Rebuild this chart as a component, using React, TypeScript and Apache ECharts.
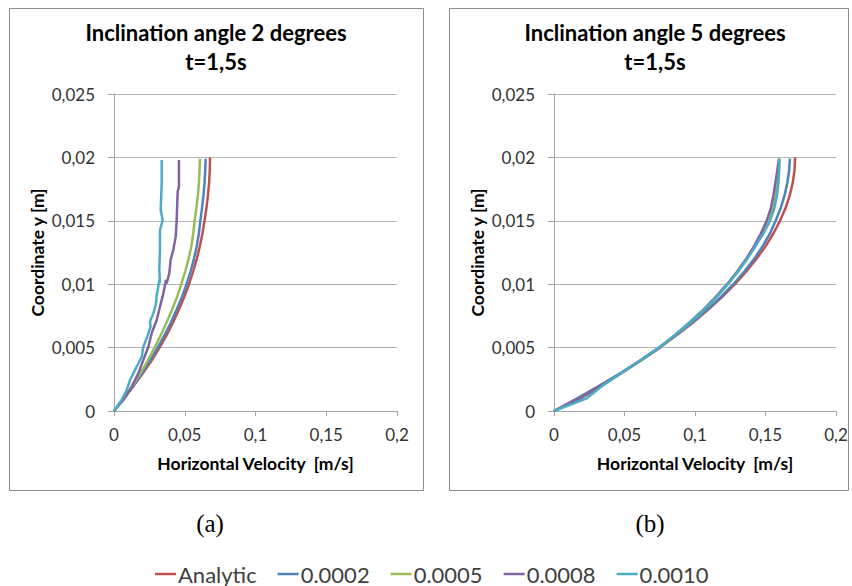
import React, { useEffect, useRef } from "react";
import * as echarts from "echarts";

// ---------- DATA ----------
const seriesNames = ["Analytic", "0.0002", "0.0005", "0.0008", "0.0010"];
const seriesColors = ["#C0504D", "#4F81BD", "#9BBB59", "#8064A2", "#4BACC6"];

const xTicks = [0, 0.05, 0.1, 0.15, 0.2];
const yTicks = [0, 0.005, 0.01, 0.015, 0.02, 0.025];

// common y levels (m)
const yLevels = [0, 0.001, 0.002, 0.003, 0.004, 0.005, 0.006, 0.007, 0.008, 0.009, 0.01,
  0.011, 0.012, 0.013, 0.014, 0.015, 0.016, 0.017, 0.018, 0.019, 0.0199];

// ----- (a) inclination 2 degrees -----
const a_analytic = [0, 0.0072, 0.014, 0.0205, 0.0267, 0.0322, 0.0373, 0.0418, 0.0459, 0.0497, 0.053,
  0.0559, 0.0585, 0.0607, 0.0625, 0.064, 0.0653, 0.0664, 0.0672, 0.0677, 0.0679];
const a_0002 = [0, 0.007, 0.0136, 0.0198, 0.0256, 0.0309, 0.0358, 0.0403, 0.0443, 0.048, 0.0513,
  0.0541, 0.0565, 0.0585, 0.06, 0.061, 0.0622, 0.0632, 0.064, 0.0645, 0.0648];
const a_0005 = [0, 0.0068, 0.0131, 0.0188, 0.024, 0.0287, 0.0331, 0.0372, 0.0411, 0.0446, 0.0475,
  0.0503, 0.0527, 0.0547, 0.056, 0.057, 0.0582, 0.0593, 0.06, 0.0605, 0.0607];
const a_0008_v = [0, 0.0007, 0.0066, 0.0125, 0.0172, 0.0207, 0.0243, 0.0266, 0.0302, 0.0325, 0.0349,
  0.0367, 0.0372, 0.0391, 0.04, 0.0419, 0.0436, 0.0443, 0.045, 0.0459, 0.0459];
const a_0008_y = [0, 0.0001, 0.00087, 0.00192, 0.00297, 0.00402, 0.00507, 0.00613, 0.00718, 0.00822, 0.00928,
  0.01033, 0.01007, 0.01086, 0.0119, 0.0127, 0.01375, 0.01506, 0.0173, 0.01769, 0.0198];
const a_0010_v = [0, 0.0007, 0.0054, 0.009, 0.0113, 0.0137, 0.016, 0.0196, 0.0207, 0.0235, 0.0259, 0.0254,
  0.0278, 0.0285, 0.0297, 0.0302, 0.0313, 0.032, 0.0325, 0.032, 0.0325, 0.0325, 0.0344, 0.033, 0.0337, 0.0337];
const a_0010_y = [0, 0.0001, 0.00087, 0.00166, 0.00244, 0.00297, 0.00349, 0.00428, 0.00507, 0.00586, 0.00665, 0.00704,
  0.0077, 0.00797, 0.00849, 0.00915, 0.0098, 0.01033, 0.01007, 0.01112, 0.0127, 0.01427, 0.01506, 0.01585, 0.01796, 0.0198];

// ----- (b) inclination 5 degrees -----
const b_analytic = [0, 0.0167, 0.0325, 0.0475, 0.0616, 0.0748, 0.0872, 0.0988, 0.1094, 0.1193, 0.1283,
  0.1364, 0.1436, 0.1501, 0.1556, 0.1603, 0.1642, 0.1672, 0.1693, 0.1706, 0.171];
const b_0002 = [0, 0.0167, 0.0325, 0.0473, 0.0613, 0.0745, 0.0868, 0.0982, 0.1088, 0.1184, 0.1272,
  0.135, 0.142, 0.148, 0.1532, 0.1572, 0.1608, 0.1635, 0.1655, 0.1668, 0.1673];
const b_0005 = [0, 0.019, 0.034, 0.0482, 0.062, 0.0752, 0.0864, 0.0968, 0.1065, 0.1154, 0.1234,
  0.1306, 0.137, 0.1426, 0.1474, 0.1515, 0.1548, 0.157, 0.1585, 0.1595, 0.16];
const b_0008 = [0, 0.0185, 0.0335, 0.0478, 0.0617, 0.075, 0.086, 0.0963, 0.1059, 0.1147, 0.1227,
  0.1299, 0.1363, 0.1419, 0.1467, 0.1508, 0.1538, 0.1556, 0.157, 0.1584, 0.1595];
const b_0010 = [0, 0.0232, 0.0345, 0.0476, 0.0613, 0.0745, 0.0858, 0.0965, 0.1064, 0.1153, 0.1232,
  0.1304, 0.137, 0.143, 0.1485, 0.1532, 0.1563, 0.1581, 0.1592, 0.1597, 0.1598];

// ---------- HELPERS ----------
const FONT = "Lato, 'Open Sans', sans-serif";
const fmt = (v: number) => parseFloat(Number(v).toPrecision(10)).toString().replace(".", ",");
const pairs = (vs: number[], ys: number[]) => vs.map((v, i) => [v, ys[i]]);

export default function App() {
  const ref = useRef<HTMLDivElement>(null);

  useEffect(() => {
    if (!ref.current) return;
    const chart = echarts.init(ref.current, null, { renderer: "svg" });

    const grids = [
      { left: 114, top: 94, width: 283, height: 317 },
      { left: 554, top: 94, width: 282, height: 317 },
    ];

    const xAxis = grids.map((_, i) => ({
      type: "value",
      gridIndex: i,
      min: xTicks[0],
      max: xTicks[xTicks.length - 1],
      interval: 0.05,
      name: "Horizontal Velocity  [m/s]",
      nameLocation: "middle",
      nameGap: 43,
      nameTextStyle: { fontFamily: FONT, fontWeight: "bold", fontSize: 17.5, color: "#000" },
      axisLine: { show: true, lineStyle: { color: "#a6a6a6", width: 1 } },
      axisTick: { show: true, length: 5, lineStyle: { color: "#a6a6a6" } },
      axisLabel: { formatter: fmt, fontFamily: FONT, fontSize: 17, color: "#333", margin: 15 },
      splitLine: { show: false },
    }));

    const yAxis = grids.map((_, i) => ({
      type: "value",
      gridIndex: i,
      min: yTicks[0],
      max: yTicks[yTicks.length - 1],
      interval: 0.005,
      name: "Coordinate y [m]",
      nameLocation: "middle",
      nameRotate: 90,
      nameGap: 68,
      nameTextStyle: { fontFamily: FONT, fontWeight: "bold", fontSize: 17.5, color: "#000" },
      axisLine: { show: true, lineStyle: { color: "#a6a6a6", width: 1 } },
      axisTick: { show: true, length: 6, lineStyle: { color: "#a6a6a6" } },
      axisLabel: { formatter: fmt, fontFamily: FONT, fontSize: 17, color: "#333", margin: 19 },
      splitLine: { show: true, lineStyle: { color: "#b3b3b3", width: 1 } },
    }));

    const dataA = [
      pairs(a_analytic, yLevels.slice(0, 20).concat([0.02])),
      pairs(a_0002, yLevels),
      pairs(a_0005, yLevels),
      pairs(a_0008_v, a_0008_y),
      pairs(a_0010_v, a_0010_y),
    ];
    const dataB = [
      pairs(b_analytic, yLevels.slice(0, 20).concat([0.02])),
      pairs(b_0002, yLevels),
      pairs(b_0005, yLevels),
      pairs(b_0008, yLevels),
      pairs(b_0010, yLevels),
    ];

    const mk = (data: number[][][], gi: number) =>
      data.map((d, k) => ({
        type: "line",
        name: seriesNames[k],
        xAxisIndex: gi,
        yAxisIndex: gi,
        data: d,
        showSymbol: false,
        symbol: "none",
        lineStyle: { color: seriesColors[k], width: 2.5 },
        itemStyle: { color: seriesColors[k] },
      }));

    const titleStyle = { fontFamily: FONT, fontWeight: "bold", fontSize: 22, lineHeight: 29, color: "#000" };

    chart.setOption({
      animation: false,
      backgroundColor: "#fff",
      title: [
        { text: "Inclination angle 2 degrees\nt=1,5s", left: 216, top: 18, textAlign: "center", padding: 0, textStyle: titleStyle },
        { text: "Inclination angle 5 degrees\nt=1,5s", left: 655, top: 18, textAlign: "center", padding: 0, textStyle: titleStyle },
      ],
      grid: grids,
      xAxis,
      yAxis,
      legend: {
        data: seriesNames,
        left: 155,
        top: 563,
        padding: 0,
        icon: "rect",
        itemWidth: 21,
        itemHeight: 2.5,
        itemGap: 21,
        textStyle: { fontFamily: FONT, fontSize: 22, color: "#404040", padding: [0, 0, 0, -3] },
      },
      graphic: [
        { type: "rect", shape: { x: 9.5, y: 8.5, width: 414, height: 482 }, style: { fill: "none", stroke: "#8c8c8c", lineWidth: 1 }, silent: true, z: -1 },
        { type: "rect", shape: { x: 449.5, y: 8.5, width: 399, height: 482 }, style: { fill: "none", stroke: "#8c8c8c", lineWidth: 1 }, silent: true, z: -1 },
        { type: "text", x: 210, y: 523, style: { text: "(a)", font: "25px 'Liberation Serif', 'Times New Roman', serif", fill: "#000", textAlign: "center", textVerticalAlign: "middle" } },
        { type: "text", x: 650, y: 523, style: { text: "(b)", font: "25px 'Liberation Serif', 'Times New Roman', serif", fill: "#000", textAlign: "center", textVerticalAlign: "middle" } },
      ],
      series: [...mk(dataA, 0), ...mk(dataB, 1)],
    });

    return () => chart.dispose();
  }, []);

  return (
    <div
      ref={ref}
      style={{ position: "absolute", left: 0, top: 0, width: 852, height: 586, background: "#fff" }}
    />
  );
}
